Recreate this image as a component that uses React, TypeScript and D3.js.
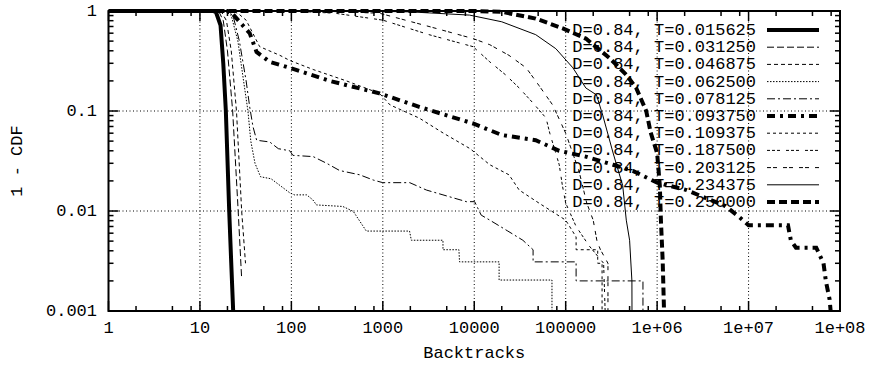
import React from "react";
import * as d3 from "d3";

const xTickLabels = ["1", "10", "100", "1000", "10000", "100000", "1e+06", "1e+07", "1e+08"];
const xTickValues = [1, 10, 100, 1000, 1e4, 1e5, 1e6, 1e7, 1e8];
const yTickLabels = ["1", "0.1", "0.01", "0.001"];
const yTickValues = [1, 0.1, 0.01, 0.001];

const seriesLabels = [
  "D=0.84, T=0.015625",
  "D=0.84, T=0.031250",
  "D=0.84, T=0.046875",
  "D=0.84, T=0.062500",
  "D=0.84, T=0.078125",
  "D=0.84, T=0.093750",
  "D=0.84, T=0.109375",
  "D=0.84, T=0.187500",
  "D=0.84, T=0.203125",
  "D=0.84, T=0.234375",
  "D=0.84, T=0.250000",
];

const s1: [number, number][] = [[1, 1], [14, 1], [15, 0.97], [16.8, 0.72], [18, 0.3], [19.2, 0.1], [20.9, 0.01], [22, 0.003], [23.1, 0.001]];
const s2: [number, number][] = [[1, 1], [16, 1], [18, 0.8], [20, 0.4], [22.8, 0.1], [26.2, 0.01], [28.6, 0.0021]];
const s3: [number, number][] = [[1, 1], [17, 1], [19.5, 0.8], [22, 0.4], [25.1, 0.1], [28.6, 0.01], [31.5, 0.003]];
const s4: [number, number][] = [[1, 1], [19, 1], [22, 0.9], [26, 0.5], [30, 0.2], [33.5, 0.1], [36, 0.05], [40, 0.03], [46, 0.022], [60, 0.021], [96, 0.0152], [108, 0.0145], [147, 0.0145], [172, 0.0129], [188, 0.0115], [365, 0.0111], [476, 0.0099], [660, 0.0063], [1960, 0.0063], [2050, 0.0051], [4550, 0.0051], [4550, 0.0041], [6800, 0.0041], [6900, 0.0031], [18700, 0.0031], [18700, 0.00204], [70800, 0.00204], [70800, 0.001]];
const s5: [number, number][] = [[1, 1], [20, 1], [23, 0.9], [27, 0.5], [32, 0.2], [35, 0.11], [38, 0.07], [41.7, 0.051], [58, 0.049], [72, 0.042], [96, 0.04], [104, 0.036], [173, 0.035], [243, 0.03], [337, 0.0254], [560, 0.023], [786, 0.0204], [1000, 0.0192], [1970, 0.0192], [3000, 0.0162], [4550, 0.0145], [8200, 0.0124], [10100, 0.0124], [11900, 0.0091], [14800, 0.0081], [23300, 0.0063], [34000, 0.0051], [44000, 0.0041], [44000, 0.0031], [130000, 0.0031], [130000, 0.002], [700000, 0.002], [700000, 0.001]];
const s6: [number, number][] = [[1, 1], [20, 1], [22, 0.97], [35, 0.6], [41.6, 0.39], [58, 0.31], [96, 0.27], [263, 0.2], [920, 0.15], [2500, 0.11], [9700, 0.075], [20000, 0.0575], [47000, 0.051], [85000, 0.04], [165000, 0.035], [330000, 0.029], [550000, 0.025], [1e6, 0.0192], [2.1e6, 0.0162], [2.9e6, 0.0143], [5.6e6, 0.0112], [7.8e6, 0.0088], [1e7, 0.0072], [2.7e7, 0.0072], [2.9e7, 0.0051], [3.3e7, 0.0043], [5.5e7, 0.0043], [6.6e7, 0.003], [7e7, 0.002], [7.7e7, 0.0013], [7.9e7, 0.001]];
const s7: [number, number][] = [[1, 1], [22, 1], [26, 0.95], [32, 0.81], [45, 0.44], [75, 0.36], [96, 0.32], [173, 0.26], [400, 0.2], [920, 0.15], [1200, 0.115], [2500, 0.085], [4600, 0.06], [9000, 0.042], [14800, 0.029], [24000, 0.023], [31000, 0.0162], [51000, 0.012], [100000, 0.0081], [130000, 0.0055], [130000, 0.0041], [224000, 0.0041], [224000, 0.003], [250000, 0.003], [250000, 0.001]];
const s8: [number, number][] = [[1, 1], [100, 1], [300, 0.95], [1000, 0.81], [3200, 0.58], [9700, 0.44], [14800, 0.31], [22000, 0.23], [31000, 0.17], [44000, 0.12], [61000, 0.085], [67000, 0.06], [85000, 0.029], [92000, 0.018], [100000, 0.012], [130000, 0.007], [180000, 0.0045], [260000, 0.003], [270000, 0.001]];
const s9: [number, number][] = [[1, 1], [200, 1], [920, 0.95], [3200, 0.7], [9700, 0.53], [14800, 0.46], [24000, 0.36], [37000, 0.27], [51000, 0.18], [72000, 0.115], [100000, 0.06], [140000, 0.025], [170000, 0.012], [200000, 0.0081], [220000, 0.005], [240000, 0.0041], [290000, 0.003], [290000, 0.001]];
const s10: [number, number][] = [[1, 1], [500, 1], [2000, 0.98], [8900, 0.91], [20000, 0.78], [47000, 0.58], [78000, 0.42], [120000, 0.27], [166000, 0.17], [217000, 0.145], [254000, 0.091], [330000, 0.038], [420000, 0.018], [460000, 0.0081], [500000, 0.0051], [530000, 0.002], [531000, 0.001]];
const s11: [number, number][] = [[1, 1], [10000, 1], [20000, 0.98], [47000, 0.84], [93000, 0.67], [166000, 0.53], [300000, 0.34], [460000, 0.23], [590000, 0.17], [760000, 0.1], [850000, 0.061], [1e6, 0.038], [1.07e6, 0.018], [1.1e6, 0.0081], [1.15e6, 0.0032], [1.19e6, 0.001]];

const seriesData = [s1, s2, s3, s4, s5, s6, s7, s8, s9, s10, s11];

const styles = [
  { w: 4, dash: "" },
  { w: 1, dash: "7,3" },
  { w: 1, dash: "4,3" },
  { w: 1, dash: "1.5,1.5" },
  { w: 1, dash: "8,3,2,3" },
  { w: 4, dash: "8,5,3,5" },
  { w: 1, dash: "3,3" },
  { w: 1, dash: "3,2,3,2,3,6" },
  { w: 1, dash: "4,2,4,6" },
  { w: 1, dash: "" },
  { w: 4, dash: "8,4" },
];

const W = 871;
const H = 367;
const X0 = 108.5;
const X1 = 840;
const Y0 = 11;
const Y1 = 311;
const FONT = "'Liberation Mono', 'Courier New', monospace";

export default function App() {
  const x = d3.scaleLog().domain([1, 1e8]).range([X0, X1]);
  const y = d3.scaleLog().domain([0.001, 1]).range([Y1, Y0]);
  const line = d3
    .line<[number, number]>()
    .x((d) => x(d[0]))
    .y((d) => y(d[1]));

  const xMinor: number[] = [];
  for (let e = 0; e < 8; e++) for (const m of [2, 5, 8]) xMinor.push(m * Math.pow(10, e));
  const yMinor: number[] = [];
  for (let e = -3; e < 0; e++) for (let m = 2; m <= 9; m++) yMinor.push(m * Math.pow(10, e));

  const MAJ = 10;
  const MIN = 5;

  return (
    <svg width={W} height={H} style={{ position: "absolute", left: 0, top: 0, background: "#fff" }}>
      <defs>
        <clipPath id="plot">
          <rect x={X0} y={Y0 - 3} width={X1 - X0} height={Y1 - Y0 + 3} />
        </clipPath>
      </defs>
      <rect width={W} height={H} fill="#fff" />
      {/* grid */}
      {xTickValues.slice(1, -1).map((v, i) => (
        <line key={"gx" + i} x1={x(v)} x2={x(v)} y1={Y0} y2={Y1} stroke="#000" strokeWidth={1} strokeDasharray="1,2.5" />
      ))}
      {yTickValues.slice(1, -1).map((v, i) => (
        <line key={"gy" + i} x1={X0} x2={X1} y1={y(v)} y2={y(v)} stroke="#000" strokeWidth={1} strokeDasharray="1,2.5" />
      ))}
      {/* ticks */}
      {xTickValues.map((v, i) => (
        <g key={"xt" + i}>
          <line x1={x(v)} x2={x(v)} y1={Y1} y2={Y1 - MAJ} stroke="#000" strokeWidth={1.5} />
          <line x1={x(v)} x2={x(v)} y1={Y0} y2={Y0 + MAJ} stroke="#000" strokeWidth={1.5} />
        </g>
      ))}
      {xMinor.map((v, i) => (
        <g key={"xm" + i}>
          <line x1={x(v)} x2={x(v)} y1={Y1} y2={Y1 - MIN} stroke="#000" strokeWidth={1.5} />
          <line x1={x(v)} x2={x(v)} y1={Y0} y2={Y0 + MIN} stroke="#000" strokeWidth={1.5} />
        </g>
      ))}
      {yTickValues.map((v, i) => (
        <g key={"yt" + i}>
          <line x1={X0} x2={X0 + MAJ} y1={y(v)} y2={y(v)} stroke="#000" strokeWidth={1.5} />
          <line x1={X1} x2={X1 - MAJ} y1={y(v)} y2={y(v)} stroke="#000" strokeWidth={1.5} />
        </g>
      ))}
      {yMinor.map((v, i) => (
        <g key={"ym" + i}>
          <line x1={X0} x2={X0 + MIN} y1={y(v)} y2={y(v)} stroke="#000" strokeWidth={1.5} />
          <line x1={X1} x2={X1 - MIN} y1={y(v)} y2={y(v)} stroke="#000" strokeWidth={1.5} />
        </g>
      ))}
      {/* curves */}
      <g clipPath="url(#plot)">
        {seriesData.map((d, i) => (
          <path
            key={"s" + i}
            d={line(d) || ""}
            fill="none"
            stroke="#000"
            strokeWidth={styles[i].w}
            strokeDasharray={styles[i].dash || undefined}
          />
        ))}
      </g>
      {/* border */}
      <rect x={X0} y={Y0} width={X1 - X0} height={Y1 - Y0} fill="none" stroke="#000" strokeWidth={2} />
      {/* tick labels */}
      {xTickLabels.map((t, i) => (
        <text key={"xl" + i} x={x(xTickValues[i])} y={333} textAnchor="middle" fontFamily={FONT} fontSize={17} fill="#000">
          {t}
        </text>
      ))}
      {yTickLabels.map((t, i) => (
        <text key={"yl" + i} x={97} y={y(yTickValues[i]) + 5} textAnchor="end" fontFamily={FONT} fontSize={17} fill="#000">
          {t}
        </text>
      ))}
      <text x={(X0 + X1) / 2} y={358} textAnchor="middle" fontFamily={FONT} fontSize={17} fill="#000">
        Backtracks
      </text>
      <text
        x={0}
        y={0}
        transform={`translate(22, ${(Y0 + Y1) / 2}) rotate(-90)`}
        textAnchor="middle"
        fontFamily={FONT}
        fontSize={17}
        fill="#000"
      >
        1 - CDF
      </text>
      {/* legend */}
      {seriesLabels.map((lab, i) => {
        const ly = 30 + i * 17.2;
        return (
          <g key={"lg" + i}>
            <text x={756} y={ly + 5} textAnchor="end" fontFamily={FONT} fontSize={17} fill="#000">
              {lab}
            </text>
            <line
              x1={767}
              x2={819}
              y1={ly}
              y2={ly}
              stroke="#000"
              strokeWidth={styles[i].w}
              strokeDasharray={styles[i].dash || undefined}
            />
          </g>
        );
      })}
    </svg>
  );
}
